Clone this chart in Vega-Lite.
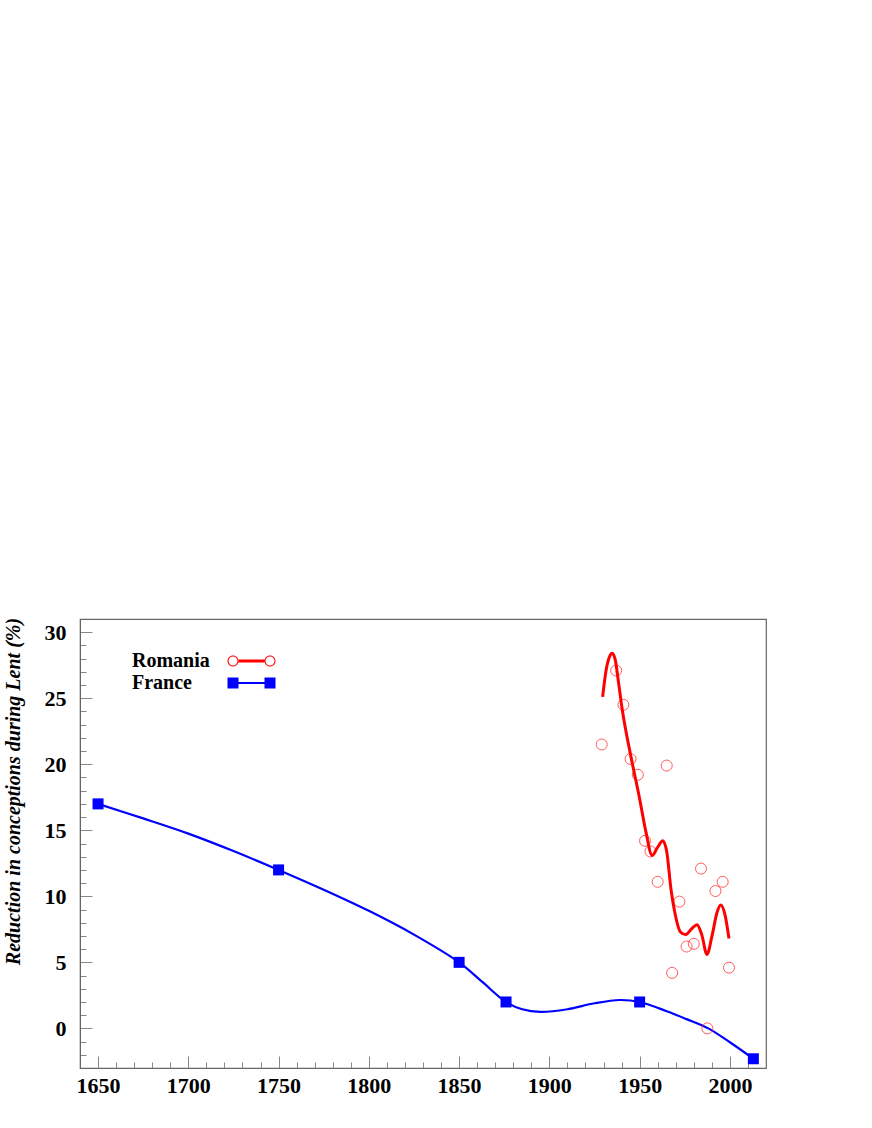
{
  "$schema": "https://vega.github.io/schema/vega-lite/v6.json",
  "autosize": {"type": "none"},
  "width": 686,
  "height": 449,
  "padding": {"left": 80, "top": 619, "right": 106, "bottom": 60},
  "background": "white",
  "config": {
    "view": {"stroke": "#666666", "strokeWidth": 1.2},
    "axis": {
      "grid": false,
      "domainColor": "#666666",
      "tickColor": "#888888",
      "labelFont": "Liberation Serif",
      "labelFontWeight": "bold",
      "labelFontSize": 22,
      "labelColor": "black",
      "labelOverlap": false,
      "labelBound": false,
      "labelFlush": false
    }
  },
  "datasets": {
    "france": [
      {"year": 1650, "pct": 17, "series": "France"},
      {"year": 1750, "pct": 12, "series": "France"},
      {"year": 1850, "pct": 5, "series": "France"},
      {"year": 1876, "pct": 2, "series": "France"},
      {"year": 1950, "pct": 2, "series": "France"},
      {"year": 2013, "pct": -2.3, "series": "France"}
    ],
    "franceCurve": [
      {"year": 1650, "pct": 17, "series": "France"},
      {"year": 1675, "pct": 15.9, "series": "France"},
      {"year": 1700, "pct": 14.75, "series": "France"},
      {"year": 1725, "pct": 13.43, "series": "France"},
      {"year": 1750, "pct": 12, "series": "France"},
      {"year": 1775, "pct": 10.5, "series": "France"},
      {"year": 1800, "pct": 8.9, "series": "France"},
      {"year": 1825, "pct": 7.1, "series": "France"},
      {"year": 1850, "pct": 5, "series": "France"},
      {"year": 1863, "pct": 3.5, "series": "France"},
      {"year": 1876, "pct": 2, "series": "France"},
      {"year": 1885, "pct": 1.45, "series": "France"},
      {"year": 1895, "pct": 1.25, "series": "France"},
      {"year": 1910, "pct": 1.45, "series": "France"},
      {"year": 1925, "pct": 1.9, "series": "France"},
      {"year": 1939, "pct": 2.15, "series": "France"},
      {"year": 1950, "pct": 2, "series": "France"},
      {"year": 1965, "pct": 1.3, "series": "France"},
      {"year": 1976, "pct": 0.7, "series": "France"},
      {"year": 1988, "pct": 0.0, "series": "France"},
      {"year": 2000, "pct": -1.05, "series": "France"},
      {"year": 2013, "pct": -2.3, "series": "France"}
    ],
    "romania": [
      {"year": 1929, "pct": 21.5},
      {"year": 1937, "pct": 27.1},
      {"year": 1941, "pct": 24.5},
      {"year": 1945, "pct": 20.4},
      {"year": 1949, "pct": 19.2},
      {"year": 1953, "pct": 14.2},
      {"year": 1956, "pct": 13.4},
      {"year": 1960, "pct": 11.1},
      {"year": 1965, "pct": 19.9},
      {"year": 1968, "pct": 4.2},
      {"year": 1972, "pct": 9.6},
      {"year": 1976, "pct": 6.2},
      {"year": 1980, "pct": 6.4},
      {"year": 1984, "pct": 12.1},
      {"year": 1987.5, "pct": 0.0},
      {"year": 1992, "pct": 10.4},
      {"year": 1996, "pct": 11.1},
      {"year": 1999.5, "pct": 4.6}
    ],
    "romaniaFit": [
      {"year": 1929.5, "pct": 25.1, "series": "Romania"},
      {"year": 1931.4, "pct": 27.1, "series": "Romania"},
      {"year": 1933.2, "pct": 28.1, "series": "Romania"},
      {"year": 1934.8, "pct": 28.4, "series": "Romania"},
      {"year": 1936.5, "pct": 27.9, "series": "Romania"},
      {"year": 1938.2, "pct": 26.3, "series": "Romania"},
      {"year": 1940.3, "pct": 24.2, "series": "Romania"},
      {"year": 1945.3, "pct": 20.5, "series": "Romania"},
      {"year": 1949.7, "pct": 17.6, "series": "Romania"},
      {"year": 1953.6, "pct": 14.8, "series": "Romania"},
      {"year": 1956.9, "pct": 13.1, "series": "Romania"},
      {"year": 1959.9, "pct": 13.7, "series": "Romania"},
      {"year": 1962.8, "pct": 14.2, "series": "Romania"},
      {"year": 1965.0, "pct": 13.4, "series": "Romania"},
      {"year": 1967.4, "pct": 10.5, "series": "Romania"},
      {"year": 1969.6, "pct": 8.7, "series": "Romania"},
      {"year": 1972.6, "pct": 7.3, "series": "Romania"},
      {"year": 1975.5, "pct": 7.1, "series": "Romania"},
      {"year": 1979.2, "pct": 7.6, "series": "Romania"},
      {"year": 1981.8, "pct": 7.85, "series": "Romania"},
      {"year": 1984.4, "pct": 7.1, "series": "Romania"},
      {"year": 1987.3, "pct": 5.6, "series": "Romania"},
      {"year": 1990.1, "pct": 7.0, "series": "Romania"},
      {"year": 1992.9, "pct": 8.8, "series": "Romania"},
      {"year": 1995.0, "pct": 9.35, "series": "Romania"},
      {"year": 1997.3, "pct": 8.6, "series": "Romania"},
      {"year": 1999.5, "pct": 6.8, "series": "Romania"}
    ]
  },
  "encoding": {
    "x": {
      "field": "year",
      "type": "quantitative",
      "scale": {"domain": [1640, 2020], "nice": false, "zero": false},
      "axis": {
        "title": null,
        "format": "d",
        "values": [1650,1660,1670,1680,1690,1700,1710,1720,1730,1740,1750,1760,1770,1780,1790,1800,1810,1820,1830,1840,1850,1860,1870,1880,1890,1900,1910,1920,1930,1940,1950,1960,1970,1980,1990,2000,2010],
        "labelExpr": "datum.value % 50 === 0 ? datum.label : ''",
        "tickSize": {"condition": {"test": "datum.value % 50 === 0", "value": -12}, "value": -6},
        "labelPadding": 19
      }
    },
    "y": {
      "field": "pct",
      "type": "quantitative",
      "scale": {"domain": [-3, 31], "nice": false, "zero": false},
      "axis": {
        "title": "Reduction in conceptions during Lent (%)",
        "titleFont": "Liberation Serif",
        "titleFontWeight": "bold",
        "titleFontStyle": "italic",
        "titleFontSize": 20,
        "titleColor": "black",
        "titleAngle": 270,
        "titleAlign": "center",
        "titleBaseline": "alphabetic",
        "titleX": -61,
        "titleY": 172,
        "format": "d",
        "values": [-2,-1,0,1,2,3,4,5,6,7,8,9,10,11,12,13,14,15,16,17,18,19,20,21,22,23,24,25,26,27,28,29,30],
        "labelExpr": "datum.value % 5 === 0 ? datum.label : ''",
        "tickSize": {"condition": {"test": "datum.value % 5 === 0", "value": -12}, "value": -6},
        "labelPadding": 26
      }
    }
  },
  "layer": [
    {
      "data": {"name": "franceCurve"},
      "mark": {"type": "line", "interpolate": "catmull-rom", "strokeWidth": 2.2},
      "encoding": {
        "color": {
          "field": "series",
          "type": "nominal",
          "scale": {"domain": ["Romania", "France"], "range": ["#ff0000", "#0000ff"]},
          "legend": {
            "title": null,
            "orient": "none",
            "legendX": 15,
            "legendY": 32,
            "padding": 0,
            "labelFont": "Liberation Serif",
            "labelFontWeight": "bold",
            "labelFontSize": 20,
            "labelColor": "black",
            "labelOffset": -129.5,
            "symbolSize": 100,
            "symbolStrokeWidth": 0,
            "symbolOffset": 146.5,
            "rowPadding": 2,
            "encode": {
              "symbols": {
                "update": {
                  "shape": {"signal": "datum.value === 'Romania' ? 'M-2.6,-0.3H2.6V0.3H-2.6Z M-4.8,0A1.1,1.1 0 1 0 -2.6,0A1.1,1.1 0 1 0 -4.8,0Z M-4.6,0A0.9,0.9 0 1 1 -2.8,0A0.9,0.9 0 1 1 -4.6,0Z M2.6,0A1.1,1.1 0 1 0 4.8,0A1.1,1.1 0 1 0 2.6,0Z M2.8,0A0.9,0.9 0 1 1 4.6,0A0.9,0.9 0 1 1 2.8,0Z' : 'M-2.6,-0.2H2.6V0.2H-2.6Z M-4.8,-1.1H-2.6V1.1H-4.8Z M2.6,-1.1H4.8V1.1H2.6Z'"},
                  "fill": {"signal": "datum.value === 'Romania' ? '#ff0000' : '#0000ff'"},
                  "fillOpacity": {"value": 1},
                  "stroke": {"value": "transparent"},
                  "strokeWidth": {"value": 0},
                  "opacity": {"value": 1}
                }
              }
            }
          }
        }
      }
    },
    {
      "data": {"name": "france"},
      "mark": {"type": "point", "shape": "square", "filled": true, "size": 121, "color": "#0000ff", "opacity": 1}
    },
    {
      "data": {"name": "romania"},
      "mark": {"type": "point", "shape": "circle", "filled": false, "size": 121, "stroke": "#ff4040", "strokeWidth": 1, "opacity": 0.85}
    },
    {
      "data": {"name": "romaniaFit"},
      "mark": {"type": "line", "interpolate": "monotone", "strokeWidth": 3},
      "encoding": {
        "color": {"field": "series", "type": "nominal"}
      }
    }
  ]
}
